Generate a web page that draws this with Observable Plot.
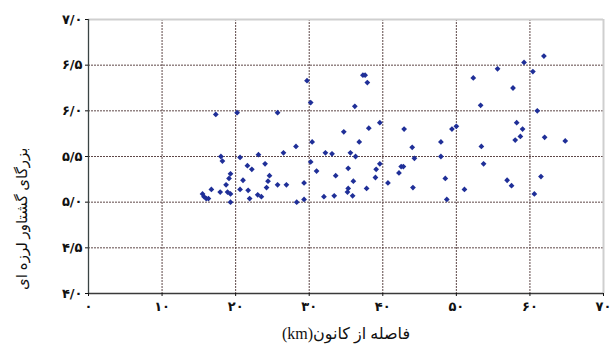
<!DOCTYPE html>
<html>
<head>
<meta charset="utf-8">
<script src="https://cdn.jsdelivr.net/npm/d3@7"></script>
<script src="https://cdn.jsdelivr.net/npm/@observablehq/plot@0.6"></script>
<style>
  html, body { margin: 0; padding: 0; background: #fff; }
  #chart svg { display: block; }
</style>
</head>
<body>
<div id="chart"></div>
<script>
// Epicentral distance (km) of each event
const distance = [
  17.3, 20.2, 25.7, 29.7, 30.2, 37.3, 37.6, 37.9, 36.2, 39.6,
  38.1, 34.7, 36.8, 30.4, 28.2, 32.2, 33.1, 35.6, 36.3, 26.5,
  23.1, 20.6, 18.0, 18.2, 30.2, 31.0, 33.6, 35.3, 39.1, 39.0,
  39.6, 42.2, 42.5, 42.8, 21.6, 22.2, 24.0, 24.6, 24.4, 24.2,
  19.3, 19.1, 18.7, 16.7, 17.9, 15.5, 15.7, 16.0, 16.3, 18.9,
  19.3, 19.3, 21.0, 20.6, 21.7, 21.9, 23.0, 23.5, 25.7, 26.9,
  28.3, 29.3, 29.3, 32.0, 33.4, 35.3, 35.2, 35.9, 36.0, 37.8,
  40.7, 42.9, 44.0, 44.3, 44.1, 47.9, 47.9, 48.5, 48.7, 49.4,
  50.0, 51.1, 52.3, 53.3, 53.4, 53.7, 55.6, 56.9, 57.5, 57.7,
  58.0, 58.2, 58.7, 59.0, 59.2, 60.4, 60.6, 61.0, 61.5, 61.9,
  62.0, 64.8
];

// Moment magnitude of each event
const magnitude = [
  5.96, 5.98, 5.98, 6.33, 6.09, 6.39, 6.39, 6.31, 6.05, 5.87,
  5.81, 5.77, 5.66, 5.66, 5.61, 5.54, 5.53, 5.54, 5.50, 5.54,
  5.52, 5.49, 5.50, 5.45, 5.44, 5.34, 5.29, 5.37, 5.36, 5.27,
  5.42, 5.32, 5.39, 5.39, 5.40, 5.36, 5.42, 5.29, 5.23, 5.16,
  5.31, 5.26, 5.19, 5.14, 5.11, 5.09, 5.06, 5.04, 5.04, 5.11,
  5.09, 5.00, 5.24, 5.14, 5.13, 5.04, 5.08, 5.06, 5.19, 5.19,
  5.00, 5.21, 5.03, 5.06, 5.07, 5.15, 5.11, 5.07, 5.23, 5.15,
  5.21, 5.80, 5.60, 5.48, 5.16, 5.66, 5.50, 5.26, 5.03, 5.80,
  5.83, 5.14, 6.36, 6.06, 5.61, 5.42, 6.46, 5.24, 5.18, 6.25,
  5.68, 5.87, 5.72, 5.80, 6.53, 6.43, 5.09, 6.00, 5.28, 6.60,
  5.71, 5.67
];

const xTicks = [0, 10, 20, 30, 40, 50, 60, 70];
const yTicks = [4.0, 4.5, 5.0, 5.5, 6.0, 6.5, 7.0];

const xTitle = "فاصله از کانون(km)";
const yTitle = "بزرگای گشتاور لرزه ای";

// Persian digits, with "/" as the decimal separator
const faDigits = "۰۱۲۳۴۵۶۷۸۹";
const toFa = s => s.replace(/[0-9]/g, d => faDigits[+d]);

const events = distance.map((d, i) => ({distance: d, magnitude: magnitude[i]}));

const gridStyle = {stroke: "#5e4848", strokeOpacity: 1, strokeWidth: 1, strokeDasharray: "2,1"};
const tickFont = {fontSize: 13, fontWeight: "bold", fontFamily: "DejaVu Sans, sans-serif"};

const chart = Plot.plot({
  width: 613,
  height: 347,
  marginLeft: 88,
  marginRight: 10,
  marginTop: 19,
  marginBottom: 54,
  style: {background: "#fff", color: "#111"},
  x: {domain: [0, 70]},
  y: {domain: [4, 7]},
  marks: [
    Plot.gridX(xTicks.slice(1, -1), gridStyle),
    Plot.gridY(yTicks.slice(1, -1), gridStyle),
    Plot.ruleY([7], {stroke: "#cfcfcf", strokeWidth: 2}),
    Plot.ruleX([70], {stroke: "#cfcfcf", strokeWidth: 2}),
    Plot.ruleX([0], {stroke: "#3a4444", strokeWidth: 1.3}),
    Plot.ruleY([4], {stroke: "#3a3a3a", strokeWidth: 1.3}),
    Plot.axisX(xTicks, {
      tickSize: 3,
      tickPadding: 5,
      tickFormat: d => toFa(String(d)),
      label: null,
      ...tickFont
    }),
    Plot.axisY(yTicks, {
      tickSize: 3,
      tickPadding: 3,
      tickFormat: d => toFa(d.toFixed(1).replace(".", "/")),
      label: null,
      ...tickFont
    }),
    Plot.dot(events, {
      x: "distance",
      y: "magnitude",
      symbol: "square",
      rotate: 45,
      r: 2.3,
      fill: "#1f2f98",
      stroke: "none"
    }),
    Plot.text([xTitle], {
      frameAnchor: "bottom",
      dy: 40,
      lineAnchor: "middle",
      fontSize: 16,
      fontFamily: "Liberation Serif, DejaVu Sans, serif",
      fill: "#111"
    }),
    Plot.text([yTitle], {
      frameAnchor: "left",
      rotate: -90,
      dx: -66,
      dy: -9,
      lineAnchor: "middle",
      fontSize: 15,
      fontFamily: "Liberation Serif, DejaVu Sans, serif",
      fill: "#111"
    })
  ]
});

// axis titles are right-to-left text
chart.querySelectorAll("text").forEach(t => {
  if (t.textContent === xTitle || t.textContent === yTitle) {
    t.setAttribute("direction", "rtl");
    t.style.direction = "rtl";
  }
});

document.getElementById("chart").appendChild(chart);
</script>
</body>
</html>
